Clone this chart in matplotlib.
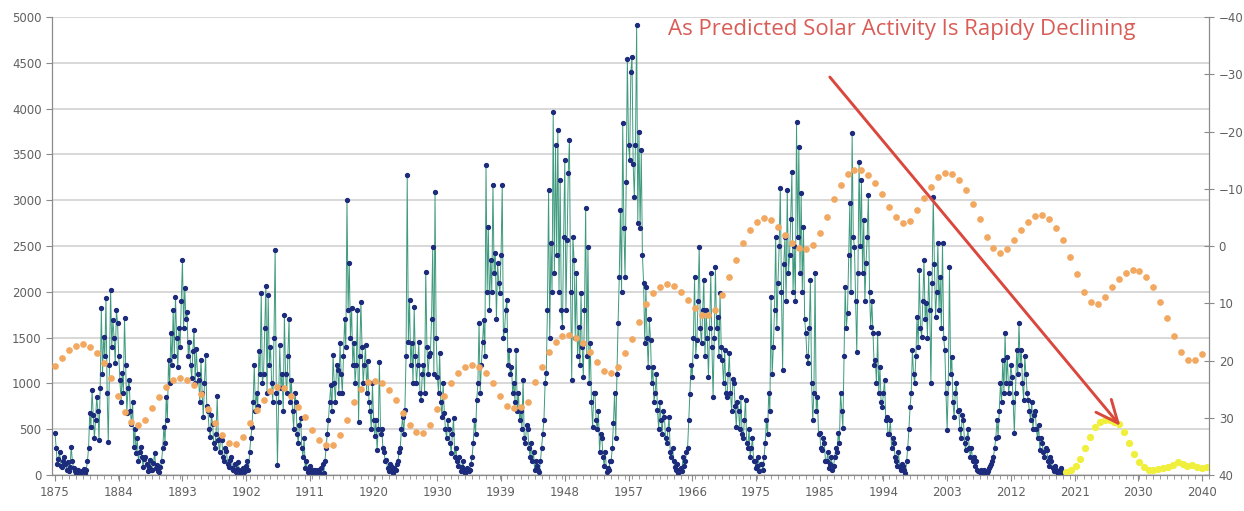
import matplotlib
matplotlib.use('Agg')
import matplotlib.pyplot as plt
import numpy as np
from matplotlib.ticker import MultipleLocator

# monthly sunspot area, 6 readings per year (every 2 months)
a1875 = [460, 300, 120, 180, 250, 100, 90, 150, 200, 120, 60, 140, 40, 90, 310, 150, 80, 40,
         20, 50, 60, 30, 10, 40, 40, 70, 20, 60, 150, 300, 680, 520, 930, 650, 400, 600,
         850, 700, 380, 950, 1820, 1100, 1510, 1300, 1930, 900, 360, 1200,
         2020, 1400, 1690, 1500, 1220, 1800, 1660, 1300, 1040, 800, 1110, 900]
a1885 = [1715, 1200, 680, 950, 1040, 700, 560, 800, 310, 500, 240, 400, 150, 250, 310, 200, 90, 180,
         200, 120, 40, 90, 160, 60, 60, 130, 240, 80, 110, 40, 30, 90, 150, 300, 520, 350,
         850, 600, 1255, 1000, 1550, 1200, 1800, 1300, 1945, 1500, 1180, 1600,
         1400, 1900, 2345, 1600, 2044, 1700, 1780, 1300, 1455, 1200, 1054, 1350]
a1895 = [1580, 1000, 1380, 1100, 1040, 800, 1255, 900, 630, 1000, 1310, 750, 700, 500, 420, 650, 560, 350,
         300, 450, 860, 380, 250, 400, 380, 200, 150, 300, 260, 120, 90, 160, 200, 80, 50, 120,
         30, 70, 140, 60, 20, 50, 80, 30, 40, 100, 150, 60,
         250, 400, 520, 800, 1200, 700, 900, 750, 1350, 1100, 1990, 1000]
a1905 = [1100, 1600, 2060, 900, 1960, 1200, 1400, 1000, 800, 1500, 2460, 900, 110, 800, 1420, 950, 1100, 700,
         1750, 1100, 900, 1300, 1700, 800, 1040, 700, 500, 900, 800, 450, 350, 550, 620, 300, 200, 400,
         80, 150, 30, 70, 100, 40, 20, 50, 60, 20, 10, 50,
         40, 20, 80, 120, 20, 150, 300, 450, 600, 800, 980, 700]
a1915 = [1310, 1000, 800, 1200, 1150, 900, 1440, 1100, 900, 1300, 1700, 1400, 3000, 1800, 2315, 1500, 1820, 1200,
         1440, 1000, 1200, 1800, 580, 1300, 1890, 1400, 1000, 1200, 1420, 900, 1250, 800, 700, 500, 1000, 600,
         430, 600, 270, 500, 1235, 450, 500, 300, 250, 150, 160, 80,
         40, 120, 100, 60, 20, 80, 60, 120, 150, 250, 300, 500]
a1925 = [630, 450, 710, 1300, 3276, 1450, 1910, 1200, 1440, 1000, 1836, 1300, 1000, 1200, 1454, 900, 820, 1100,
         1200, 900, 2215, 1400, 1100, 1300, 1330, 1700, 2490, 1100, 3090, 1500, 1073, 900, 1330, 800, 630, 1000,
         680, 500, 400, 600, 500, 350, 240, 450, 620, 200, 300, 150,
         100, 200, 40, 90, 150, 60, 20, 60, 80, 40, 50, 120]
a1935 = [200, 350, 600, 450, 820, 1000, 1660, 900, 1200, 1450, 1690, 1300, 3385, 2000, 2710, 1800, 2350, 2000,
         3170, 2200, 2420, 1700, 2315, 2100, 1990, 2400, 3170, 1500, 1580, 1800, 1910, 1200, 1360, 1100, 1180, 900,
         1000, 800, 1365, 700, 900, 600, 700, 500, 1040, 400, 350, 550,
         500, 300, 200, 350, 150, 250, 50, 150, 100, 60, 30, 150]
a1945 = [300, 450, 600, 1000, 1110, 1800, 3110, 1500, 2530, 2000, 3960, 2200, 3600, 2400, 3765, 2000, 3220, 1800,
         1620, 2600, 3440, 1800, 2565, 3300, 3655, 2000, 1040, 2600, 2350, 1500, 2205, 1300, 1620, 1200, 1990, 1400,
         1073, 1800, 2915, 1300, 2490, 1000, 1440, 800, 520, 900, 900, 600,
         500, 700, 250, 450, 400, 200, 100, 250, 30, 80, 60, 150]
a1955 = [150, 300, 570, 900, 400, 1100, 1660, 2160, 2890, 2000, 3840, 2700, 2160, 3200, 4545, 3600, 3440, 4400,
         4565, 3400, 3035, 3600, 4915, 2750, 3745, 2700, 3550, 2400, 2100, 1440, 2055, 1500, 1180, 1700, 1475, 1000,
         1180, 800, 900, 1100, 710, 500, 800, 600, 450, 700, 630, 400,
         350, 500, 630, 250, 200, 300, 150, 90, 50, 120, 20, 60]
a1965 = [80, 40, 200, 100, 150, 250, 300, 600, 880, 1200, 1070, 1500, 2160, 1300, 1475, 1900, 2490, 1600,
         1440, 1800, 2130, 1300, 1800, 1500, 1070, 1600, 2205, 1400, 850, 1500, 2270, 1600, 1725, 1300, 1990, 1400,
         1255, 1000, 1365, 900, 850, 1100, 1330, 900, 700, 1050, 1000, 750,
         520, 800, 700, 500, 850, 450, 400, 600, 820, 350, 300, 500]
a1975 = [200, 300, 400, 150, 150, 80, 100, 200, 40, 120, 120, 50, 200, 350, 600, 450, 900, 700,
         1945, 1100, 1400, 1800, 2600, 1600, 2100, 2500, 3134, 2000, 1146, 2300, 2600, 1900, 3112, 2200, 2400, 2800,
         3309, 2000, 2500, 1900, 3855, 2600, 3585, 2200, 3080, 2000, 2708, 1700,
         1550, 1300, 1223, 1600, 2127, 1000, 600, 900, 2205, 700, 854, 450]
a1985 = [460, 300, 270, 400, 350, 150, 150, 250, 80, 120, 200, 60, 100, 200, 300, 250, 460, 350,
         900, 700, 510, 1300, 2055, 1600, 1770, 2400, 2970, 2000, 3735, 2600, 2490, 1900, 1343, 2200, 3418, 2500,
         3220, 2200, 2785, 1900, 2315, 2600, 3058, 2000, 1616, 1900, 1550, 1200,
         1256, 1000, 1550, 900, 1180, 800, 740, 900, 1040, 600, 630, 450]
a1995 = [450, 600, 300, 400, 350, 200, 150, 100, 250, 90, 60, 120, 100, 60, 20, 150, 300, 500,
         740, 900, 1365, 1100, 1000, 1300, 1725, 1400, 2240, 1600, 1510, 1900, 2350, 1700, 1880, 1500, 2200, 1800,
         1000, 2100, 3040, 2300, 1725, 2000, 2535, 1800, 2160, 1600, 2535, 1500,
         1365, 900, 490, 1000, 2270, 1100, 1290, 800, 630, 900, 1000, 700]
a2005 = [710, 500, 400, 650, 600, 350, 270, 400, 500, 300, 200, 300, 150, 200, 100, 150, 60, 40,
         30, 60, 10, 30, 50, 20, 20, 40, 80, 100, 120, 150, 200, 300, 400, 600, 415, 700,
         1000, 800, 1256, 900, 1550, 1000, 1290, 900, 1000, 1200, 1070, 800,
         460, 900, 1365, 1100, 1660, 1200, 1365, 1000, 820, 1300, 1100, 900]
a2015 = [820, 700, 600, 800, 500, 650, 700, 500, 400, 550, 270, 400, 350, 250, 200, 300, 270, 150,
         100, 200, 150, 80, 40, 100, 60, 30, 20, 50, 80, 30, 10]

area = a1875 + a1885 + a1895 + a1905 + a1915 + a1925 + a1935 + a1945 + a1955 + a1965 + a1975 + a1985 + a1995 + a2005 + a2015
area_years = 1875 + np.arange(len(area)) / 6.0

# forecast continuation (yellow)
fc_years = [2020.4, 2021.1, 2021.8, 2022.5, 2023.2, 2023.9, 2024.6, 2025.3, 2026.0, 2026.7,
            2027.4, 2028.1, 2028.8, 2029.5, 2030.2, 2030.9, 2031.6, 2032.3, 2033.0, 2033.7,
            2034.4, 2035.1, 2035.8, 2036.5, 2037.2, 2037.9, 2038.6, 2039.3, 2040.0, 2040.7]
fc_area = [30, 50, 100, 180, 300, 420, 520, 580, 600, 595,
           580, 560, 470, 350, 230, 140, 90, 60, 55, 65,
           80, 90, 110, 140, 120, 100, 110, 90, 80, 90]

# orange series on the inverted right axis, one value per year 1875..2040
o1875 = [21.0, 19.6, 18.2, 17.4, 17.1, 17.6, 18.7, 20.5, 23.0, 26.2, 29.0, 30.7, 31.2, 30.4, 28.3,
         26.4, 24.6, 23.4, 23.0, 23.4, 24.3, 25.8, 28.5, 31.0, 33.1, 34.4, 34.5, 33.3, 31.0, 28.6]
o1905 = [26.9, 25.4, 24.6, 24.8, 26.2, 28.1, 29.8, 32.1, 33.8, 34.7, 34.7, 33.1, 30.4, 27.2, 25.0,
         23.7, 23.5, 24.0, 25.1, 26.9, 29.1, 31.2, 32.5, 32.6, 31.2, 28.5, 26.2, 24.0, 22.2, 21.1]
o1935 = [20.8, 21.1, 22.2, 24.0, 26.2, 28.0, 28.3, 28.2, 27.2, 23.8, 21.1, 18.6, 16.8, 15.8, 15.5,
         16.0, 16.9, 18.6, 20.3, 21.9, 22.2, 21.1, 18.7, 16.2, 13.3, 10.2, 8.2, 7.1, 6.6, 7.0]
o1965 = [8.0, 9.4, 10.8, 12.0, 12.0, 11.2, 8.5, 5.4, 2.5, -0.5, -2.8, -4.2, -4.9, -4.6, -3.4,
         -1.9, -0.6, 0.3, 0.6, -0.2, -2.3, -5.0, -8.2, -10.6, -12.6, -13.3, -13.3, -12.4, -11.0, -9.1]
o1995 = [-6.8, -5.0, -4.0, -4.4, -6.3, -8.4, -10.3, -12.1, -12.8, -12.6, -11.5, -9.8, -7.4, -4.7, -1.6,
         0.3, 1.2, 0.5, -1.0, -2.8, -4.2, -5.3, -5.4, -4.7, -3.1, -1.0, 1.9, 4.9, 8.0, 9.8]
o2025 = [10.2, 8.9, 7.1, 5.7, 4.7, 4.2, 4.3, 5.4, 7.1, 9.8, 12.6, 15.8, 18.5, 19.9, 19.9, 18.8]

orange = o1875 + o1905 + o1935 + o1965 + o1995 + o2025
orange_years = np.arange(1875, 1875 + len(orange))

xlabels = ['1875', '1884', '1893', '1902', '1911', '1920', '1930', '1939', '1948', '1957',
           '1966', '1975', '1985', '1994', '2003', '2012', '2021', '2030', '2040']
title = 'As Predicted Solar Activity Is Rapidy Declining'

W, H = 1244, 511
fig = plt.figure(figsize=(W / 100, H / 100), dpi=100)
ax = fig.add_axes([52 / W, 36 / H, 1157 / W, 458 / H])

ax.set_xlim(1874.57, 2041.0)
ax.set_ylim(0, 5000)
ax.set_yticks(np.arange(0, 5001, 500))
ax.grid(axis='y', color='#d6d6d6', lw=1.3)
ax.set_axisbelow(True)

ax.plot(area_years, area, '-', color='#3f9a7e', lw=0.7, marker='o', ms=2.8,
        mfc='#1d2b7c', mec='#1d2b7c', zorder=3)
ax.plot(fc_years, fc_area, 'o', color='#f0f03c', ms=4.2, zorder=3)

ax.set_xticks(np.linspace(1875, 2040, len(xlabels)))
ax.set_xticklabels(xlabels)
ax.xaxis.set_minor_locator(MultipleLocator(1))

ax2 = ax.twinx()
ax2.set_ylim(40, -40)
ax2.set_yticks(np.arange(-40, 41, 10))
ax2.plot(orange_years, orange, 'o', color='#f2a860', ms=3.8, zorder=4)

for a in (ax, ax2):
    a.spines['top'].set_visible(False)
    for s in ('left', 'right', 'bottom'):
        a.spines[s].set_color('#8a8a8a')
    a.tick_params(colors='#8a8a8a', labelcolor='#606060', labelsize=8.5)
ax.tick_params(axis='x', which='major', length=4, pad=4)
ax.tick_params(axis='x', which='minor', length=3, color='#8a8a8a')
ax.tick_params(axis='y', length=4)
ax2.tick_params(axis='y', direction='inout', length=7)

# red arrow and headline
ax2.annotate('', xy=(2028.5, 513), xycoords=ax.transData,
             xytext=(1986.2, 4368), textcoords=ax.transData,
             arrowprops=dict(arrowstyle='->,head_length=0.9,head_width=0.4',
                             color='#d9473d', lw=2.1, mutation_scale=18))
fig.text(668 / W, 1 - 30 / H, title, color='#d95c57', fontsize=16,
         family='Open Sans', va='center', ha='left')

fig.savefig('out.png', dpi=100)
